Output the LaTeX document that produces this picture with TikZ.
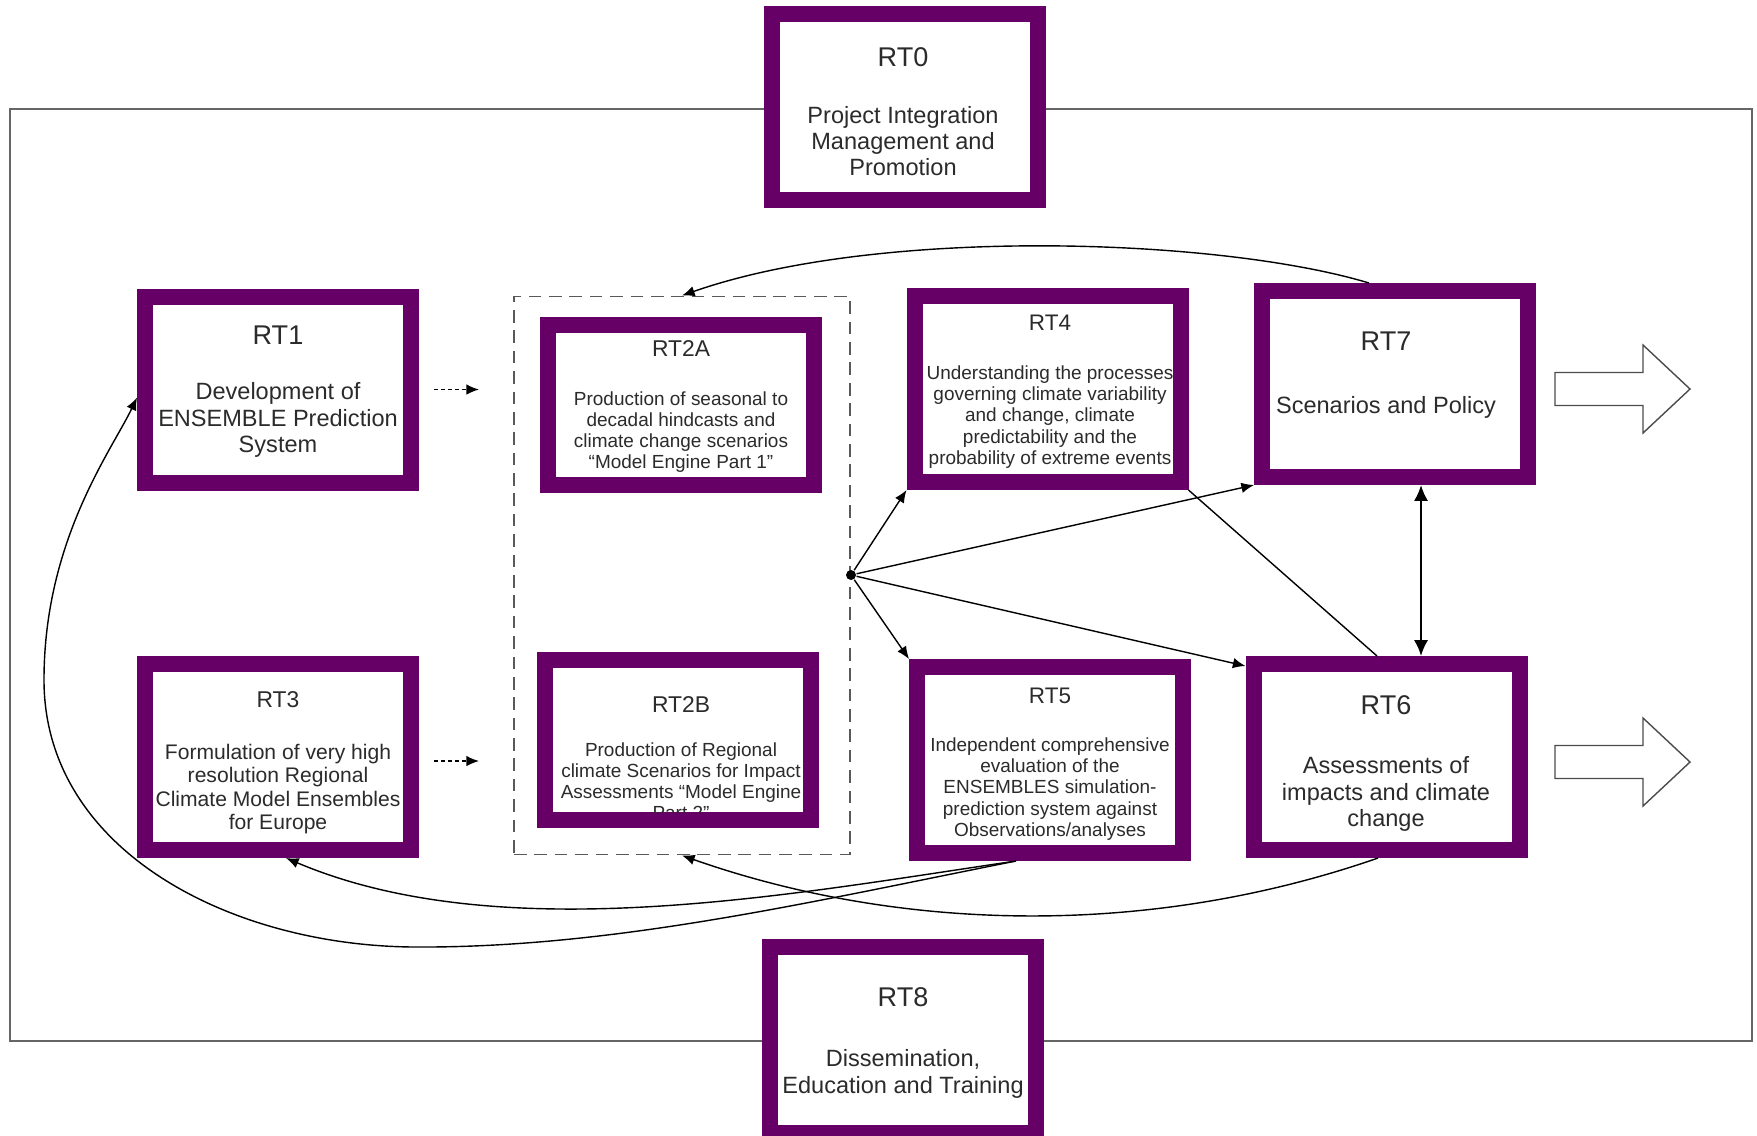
\documentclass[tikz,border=0pt]{standalone}
\usepackage{fontspec}
\setmainfont{Liberation Sans}
\usetikzlibrary{arrows.meta}
\definecolor{rtpurple}{HTML}{660066}
\definecolor{rttext}{HTML}{2B2B2B}

\begin{document}
\begin{tikzpicture}[x=0.1mm,y=-0.1mm,
  >={Latex[length=3.6pt,width=3pt]},
  rtbox/.style={draw=rtpurple,line width=1.6mm,fill=white,inner sep=0pt,
    minimum width=26.6mm,minimum height=18.6mm},
  ttl/.style={text=rttext,inner sep=0pt,font=\fontsize{7.7}{9}\selectfont},
  ttlsmall/.style={ttl,font=\fontsize{6.5}{8}\selectfont},
  txt/.style={text=rttext,inner sep=0pt,align=center,font=\fontsize{6.7}{7.5}\selectfont},
  txtmid/.style={txt,font=\fontsize{6}{6.7}\selectfont},
  txtsmall/.style={txt,font=\fontsize{5.4}{6}\selectfont},
  link/.style={line width=0.4pt},
  dotlink/.style={->,line width=0.4pt,dash pattern=on 1.2pt off 0.8pt,
    shorten <=1.5mm,shorten >=3.4mm},
  bigarrow/.style={draw=black!70,line width=0.4pt,fill=white}]

\useasboundingbox (0,0) rectangle (1757,1135);

% outer frame
\draw[black!60,line width=0.5pt] (10,109) rectangle (1752,1041);

% work packages
\foreach \n/\x/\y in {0/905/106.5,1/278/389.5,3/278/757,4/1047.5/389,
  5/1050/760,6/1386.5/757,7/1395/384,8/902.5/1040}
  \node[rtbox] (rt\n) at (\x,\y) {};
\node[rtbox,minimum height=16mm] (rt2a) at (680.5,405) {};
\node[rtbox,minimum height=16mm] (rt2b) at (678,740) {};

\node[ttl] (t0) at (903,57) {RT0};
\node[txt] (b0) at (903,141) {Project Integration\\Management and\\Promotion};
\node[ttl] (t1) at (278,335) {RT1};
\node[txt] (b1) at (278,420) {Development of\\ENSEMBLE Prediction\\System};
\node[ttlsmall] (t2a) at (681,349) {RT2A};
\node[txtsmall] (b2a) at (681,432) {Production of seasonal to\\decadal hindcasts and\\climate change scenarios\\“Model Engine Part 1”};
\node[ttlsmall] (t2b) at (681,704) {RT2B};
\begin{scope}
  \clip (553,668) rectangle (803,812);
  \node[txtsmall] (b2b) at (681,781) {Production of Regional\\climate Scenarios for Impact\\Assessments “Model Engine\\Part 2”};
\end{scope}
\node[ttlsmall] (t3) at (278,700) {RT3};
\node[txtmid] (b3) at (278,789) {Formulation of very high\\resolution Regional\\Climate Model Ensembles\\for Europe};
\node[ttlsmall,font=\fontsize{6.4}{8}\selectfont] (t4) at (1050,323) {RT4};
\node[txtsmall] (b4) at (1050,417) {Understanding the processes\\governing climate variability\\and change, climate\\predictability and the\\probability of extreme events};
\node[ttlsmall,font=\fontsize{6.4}{8}\selectfont] (t5) at (1050,696) {RT5};
\node[txtsmall] (b5) at (1050,789) {Independent comprehensive\\evaluation of the\\ENSEMBLES simulation-\\prediction system against\\Observations/analyses};
\node[ttl] (t6) at (1386,705) {RT6};
\node[txt] (b6) at (1386,794) {Assessments of\\impacts and climate\\change};
\node[ttl] (t7) at (1386,341) {RT7};
\node[txt] (b7) at (1386,407) {Scenarios and Policy};
\node[ttl] (t8) at (903,997) {RT8};
\node[txt] (b8) at (903,1074) {Dissemination,\\Education and Training};

% model engine group and hub
\node[draw=black!65,line width=0.55pt,dash pattern=on 3.6pt off 2.2pt,
  minimum width=33.6mm,minimum height=55.8mm] (grp) at (682,575.5) {};
\node[circle,fill=black,inner sep=0pt,minimum size=1mm] (hub) at (851,575) {};

% outputs
\foreach \y in {389,762}
  \draw[bigarrow] (1555,\y-16.5) -- (1643,\y-16.5) -- (1643,\y-44) -- (1690,\y)
    -- (1643,\y+44) -- (1643,\y+16.5) -- (1555,\y+16.5) -- cycle;

% links
\coordinate (d3) at ([yshift=-0.4mm]rt3.east);
\draw[dotlink] (rt1.east) -- (rt1.east -| grp.west);
\draw[dotlink] (d3) -- (d3 -| grp.west);

\draw[->,link] (hub) -- (rt4.south west);
\draw[->,link] (hub) -- (rt7.south west);
\draw[->,link] (hub) -- (rt5.north west);
\draw[->,link] (hub) -- ([yshift=-1mm]rt6.north west);
\draw[link] (rt4.south east) -- ([xshift=-0.95mm]rt6.north);
\draw[<->,line width=0.6pt,>={Latex[length=4.5pt,width=4pt]}]
  ([xshift=2.6mm]rt7.south) -- ([xshift=2.6mm]rt7.south |- rt6.north);

\draw[->,link] ([xshift=-2.6mm]rt7.north) .. controls (1220,238) and (880,226) .. (grp.north);
\draw[->,link] ([xshift=-0.85mm]rt6.south) .. controls (1148,938) and (900,932) .. (grp.south);
\draw[->,link] ([xshift=-3.4mm]rt5.south) .. controls (796,893) and (503,950) .. ([xshift=0.8mm]rt3.south);

\coordinate (loopbot) at (415,947);
\coordinate (loopleft) at (44,680);
\draw[->,link] ([xshift=-3.4mm]rt5.south) .. controls (814,901) and (615,948) .. (loopbot)
  .. controls (230,946) and (44,850) .. (loopleft)
  .. controls (44,540) and (112,450) .. ([yshift=-0.8mm]rt1.west);
\end{tikzpicture}
\end{document}
